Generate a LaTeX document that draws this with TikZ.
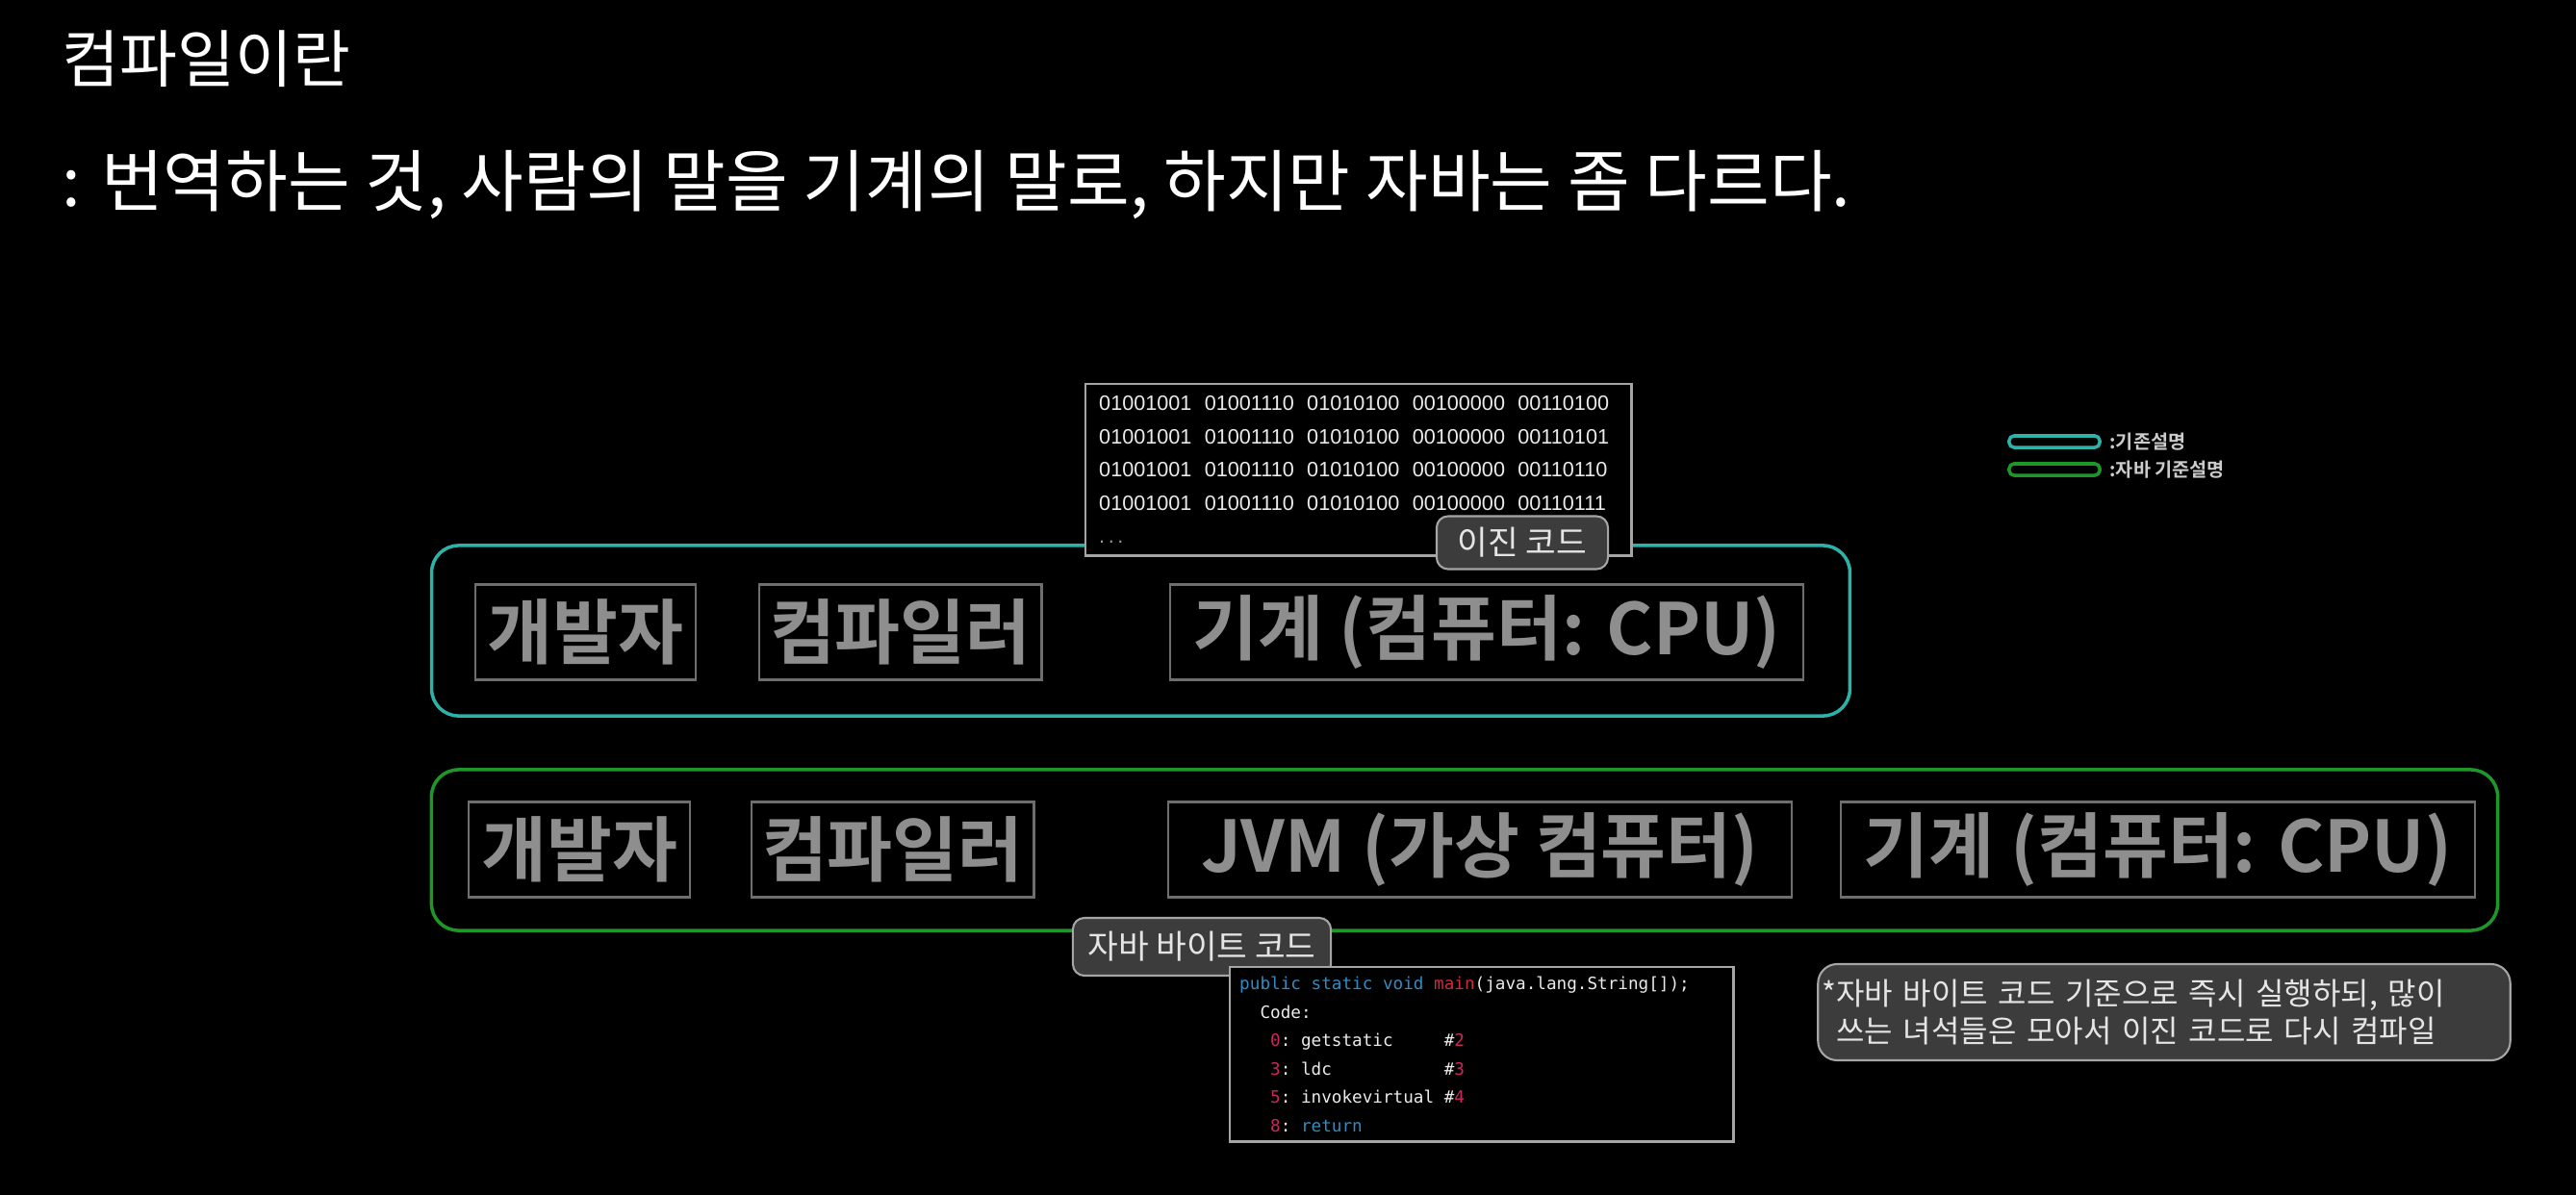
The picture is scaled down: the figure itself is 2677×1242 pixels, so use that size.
\documentclass[tikz,border=0pt]{standalone}
\usepackage{fontspec}
\setmainfont{Noto Sans CJK KR}[BoldFont={Noto Sans CJK KR Bold}]
\newfontfamily\bitsfont{Liberation Sans}
\newfontfamily\codefont{DejaVu Sans Mono}
\usetikzlibrary{positioning}

\definecolor{basicteal}{RGB}{44,178,168}
\definecolor{javagreen}{RGB}{30,150,40}
\definecolor{boxline}{RGB}{110,110,110}
\definecolor{boxtext}{RGB}{142,142,142}
\definecolor{tagfill}{RGB}{60,60,60}
\definecolor{tagline}{RGB}{165,165,165}
\definecolor{codeblue}{RGB}{50,140,195}
\definecolor{codered}{RGB}{215,40,55}
\definecolor{codenum}{RGB}{200,40,95}

\newcommand{\bitgap}{\hspace{0.62em}}
\newcommand{\blank}[1]{\hspace{#1\fontcharwd\font`0}}
\newcommand{\cnum}[1]{\textcolor{codenum}{#1}}

\tikzset{
  rowframe/.style={rounded corners=0.28cm, line width=1pt, inner sep=0pt},
  rolebox/.style={draw=boxline, line width=0.6pt, minimum height=0.99cm, inner sep=0pt,
    text=boxtext, font=\fontsize{21pt}{24pt}\selectfont\bfseries},
  tag/.style={draw=tagline, fill=tagfill, rounded corners=0.12cm, line width=0.6pt,
    text=white!90!black, inner sep=0pt, font=\fontsize{9.8pt}{11pt}\selectfont},
  listing/.style={draw=tagline, fill=black, line width=0.7pt, anchor=north west,
    align=left, text=white!92!black},
  legendkey/.style={rounded corners=0.05cm, line width=1pt, minimum width=0.94cm,
    minimum height=0.12cm, inner sep=0pt},
  legendtext/.style={inner sep=0pt, text=white!80!black,
    font=\fontsize{5.6pt}{6pt}\selectfont\bfseries}
}

\begin{document}
\begin{tikzpicture}[x=0.01cm, y=-0.01cm]
  \fill[black] (0,0) rectangle (2677,1242);
  \useasboundingbox (0,0) rectangle (2677,1242);

  % heading
  \node[anchor=base west, inner sep=0pt, text=white, font=\fontsize{18.5pt}{22pt}\selectfont] (title) at (64,85) {컴파일이란};
  \node[anchor=base west, inner sep=0pt, text=white, font=\fontsize{20pt}{24pt}\selectfont] (subtitle) at (64,214) {: 번역하는 것, 사람의 말을 기계의 말로, 하지만 자바는 좀 다르다.};

  % frames
  \node[rowframe, draw=basicteal, minimum width=14.73cm, minimum height=1.77cm] (basicrow) at (1185.5,655.5) {};
  \node[rowframe, draw=javagreen, minimum width=21.46cm, minimum height=1.67cm] (javarow) at (1522,883.5) {};

  % classic compile
  \node[rolebox, minimum width=2.29cm, anchor=west] (dev1) at (493,657) {개발자};
  \node[rolebox, minimum width=2.93cm, right=0.64cm of dev1] (comp1) {컴파일러};
  \node[rolebox, minimum width=6.58cm, right=1.31cm of comp1] (cpu1) {기계 (컴퓨터: CPU)};

  % java compile
  \node[rolebox, minimum width=2.30cm, anchor=west] (dev2) at (486,883) {개발자};
  \node[rolebox, minimum width=2.93cm, right=0.62cm of dev2] (comp2) {컴파일러};
  \node[rolebox, minimum width=6.48cm, right=1.37cm of comp2] (jvm) {JVM (가상 컴퓨터)};
  \node[rolebox, minimum width=6.58cm, right=0.49cm of jvm] (cpu2) {기계 (컴퓨터: CPU)};

  % binary code
  \node[listing, text width=5.39cm, inner xsep=0.14cm, inner ysep=0pt, minimum height=1.78cm,
    font=\bitsfont\fontsize{6.15pt}{9.8pt}\selectfont] (bits) at (1127,398) {%
    01001001\bitgap 01001110\bitgap 01010100\bitgap 00100000\bitgap 00110100\\
    01001001\bitgap 01001110\bitgap 01010100\bitgap 00100000\bitgap 00110101\\
    01001001\bitgap 01001110\bitgap 01010100\bitgap 00100000\bitgap 00110110\\
    01001001\bitgap 01001110\bitgap 01010100\bitgap 00100000\bitgap 00110111\\
    \textcolor{white!60!black}{.\,.\,.}};
  \node[tag, minimum width=1.78cm, minimum height=0.55cm] (bitstag) at (1582,564) {이진 코드};

  % byte code
  \node[tag, minimum width=2.68cm, minimum height=0.60cm] (bytetag) at (1249,984) {자바 바이트 코드};
  \node[listing, text width=5.03cm, inner xsep=0.10cm, inner ysep=0pt, minimum height=1.81cm,
    font=\codefont\fontsize{5.02pt}{8.4pt}\selectfont] (bytecode) at (1277,1004) {%
    \textcolor{codeblue}{public\blank1static\blank1void}\blank1\textcolor{codered}{main}(java.lang.String[]);\\
    \blank2Code:\\
    \blank3\cnum{0}:\blank1getstatic\blank5\#\cnum{2}\\
    \blank3\cnum{3}:\blank1ldc\blank{11}\#\cnum{3}\\
    \blank3\cnum{5}:\blank1invokevirtual\blank1\#\cnum{4}\\
    \blank3\cnum{8}:\blank1\textcolor{codeblue}{return}};

  % note
  \node[tag, minimum width=7.19cm, minimum height=1.0cm, text width=7.11cm, inner xsep=0.04cm,
    align=left, rounded corners=0.2cm, font=\fontsize{9.1pt}{10.9pt}\selectfont] (jitnote) at (2249,1052) {%
    *자바 바이트 코드 기준으로 즉시 실행하되, 많이\\
    \phantom{*}쓰는 녀석들은 모아서 이진 코드로 다시 컴파일};

  % legend
  \node[legendkey, draw=basicteal] (keybasic) at (2135,459) {};
  \node[legendtext, right=0.08cm of keybasic] (keybasictext) {:기존설명};
  \node[legendkey, draw=javagreen] (keyjava) at (2135,488) {};
  \node[legendtext, right=0.08cm of keyjava] (keyjavatext) {:자바 기준설명};
\end{tikzpicture}
\end{document}
